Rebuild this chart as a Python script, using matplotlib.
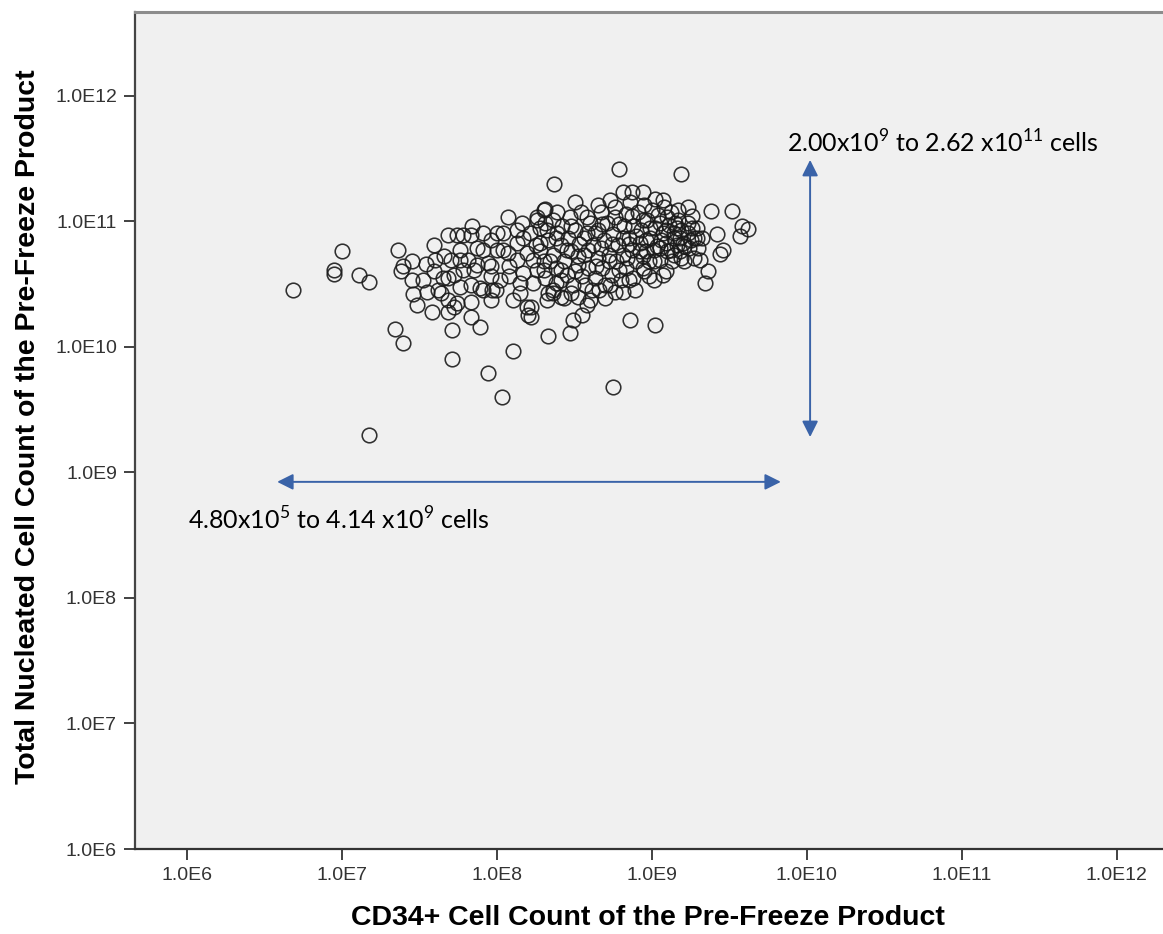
import numpy as np
import matplotlib
matplotlib.use("Agg")
import matplotlib.pyplot as plt
from matplotlib.ticker import FixedLocator, FixedFormatter, NullLocator

# log10 values
log_cd34 = [
    6.68, 7.00, 6.95, 6.95, 7.11, 7.17, 7.36, 7.17, 7.34, 7.39,
    7.39, 7.38, 7.45, 7.45, 7.46, 7.48, 7.54, 7.55, 7.58, 7.59,
    7.60, 7.62, 7.64, 7.66, 7.68, 7.68, 7.68, 7.72, 7.74, 7.76,
    7.78, 7.83, 7.84, 7.83, 7.85, 7.91, 7.91, 7.91, 7.96, 7.99,
    8.00, 8.04, 8.07, 8.08, 8.10, 8.13, 8.15, 8.16, 8.17, 8.19,
    8.20, 8.23, 8.26, 8.28, 8.30, 8.30, 8.32, 8.33,
    7.52, 7.59, 7.65, 7.72, 7.78, 7.76, 7.83, 7.89, 7.96, 7.87,
    7.94, 7.81, 8.00, 8.07, 8.13, 8.19, 8.08, 8.17, 8.23, 7.87,
    7.96, 8.04, 8.13, 8.21, 7.76, 7.70, 7.96, 8.15, 7.68, 7.74,
    7.83, 8.02, 7.97,
    7.71, 7.89, 7.71, 8.10, 7.94, 8.03, 8.33, 8.47, 8.75, 9.02,
    8.48, 8.52, 8.58, 8.55, 8.49, 8.36, 8.41, 8.22, 8.22, 8.81,
    8.86, 9.09, 9.19, 9.31, 9.36, 9.34, 9.14, 8.94,
    8.79, 9.19, 8.37, 8.50, 8.65, 8.73, 8.81, 8.87, 8.94, 9.02,
    9.07, 9.17, 9.23, 9.26, 9.38, 9.52, 9.58, 9.62, 9.57, 9.42,
    9.46, 9.44, 9.27, 9.20, 9.10, 9.16, 9.14, 9.05, 8.39, 8.31,
    8.26, 8.58,
    8.28, 8.28, 8.30, 8.31, 8.33, 8.36, 8.36, 8.38, 8.38, 8.39,
    8.41, 8.42, 8.43, 8.45, 8.46, 8.47, 8.48, 8.49, 8.50, 8.52,
    8.53, 8.54, 8.55, 8.56, 8.58, 8.59, 8.60, 8.61, 8.62, 8.63,
    8.65, 8.65, 8.67, 8.68, 8.69, 8.70, 8.71, 8.72, 8.74, 8.75,
    8.76, 8.77, 8.78, 8.79, 8.80, 8.81, 8.83, 8.83, 8.85, 8.86,
    8.87, 8.88, 8.88, 8.90, 8.91, 8.92, 8.93, 8.94, 8.95, 8.96,
    8.97, 8.98, 8.99, 9.00, 9.01, 9.02, 9.03, 9.04, 9.05, 9.07,
    9.08, 9.09, 9.10, 9.11, 9.12, 9.13, 9.14, 9.16, 9.17, 9.18,
    9.19, 9.21, 9.23, 9.24, 9.25, 9.27, 9.29, 9.30, 9.32, 8.25,
    8.26, 8.32, 8.43, 8.60, 8.70, 8.76, 8.89, 9.01, 9.07,
    8.31, 8.34, 8.38, 8.41, 8.45, 8.48, 8.52, 8.56, 8.59, 8.63,
    8.64, 8.67, 8.68, 8.72, 8.74, 8.76, 8.79, 8.81, 8.82, 8.84,
    8.85, 8.87, 8.90, 8.92, 8.94, 8.96, 8.98, 8.99, 9.01, 9.05,
    9.06, 9.09, 9.12, 9.15, 9.18, 9.21, 9.23, 9.26, 9.29, 8.50,
    8.57, 8.66, 8.73, 8.85, 8.95, 8.41, 8.36,
]
log_tnc = [
    10.45, 10.76, 10.61, 10.58, 10.57, 10.52, 10.77, 9.30, 10.14, 10.03,
    10.64, 10.60, 10.68, 10.53, 10.42, 10.33, 10.66, 10.44, 10.28, 10.81,
    10.69, 10.45, 10.43, 10.72, 10.89, 10.55, 10.28, 10.32, 10.89, 10.69,
    10.89, 10.89, 10.96, 10.24, 10.61, 10.91, 10.77, 10.45, 10.64, 10.45,
    10.91, 10.77, 11.03, 10.56, 10.37, 10.69, 10.51, 10.99, 10.87, 10.32,
    10.25, 10.69, 11.01, 10.83, 11.09, 10.61, 10.93, 10.43,
    10.53, 10.60, 10.55, 10.57, 10.61, 10.48, 10.49, 10.47, 10.56, 10.65,
    10.67, 10.69, 10.77, 10.75, 10.83, 10.75, 10.64, 10.59, 10.51, 10.79,
    10.85, 10.91, 10.93, 10.91, 10.77, 10.69, 10.37, 10.43, 10.37, 10.35,
    10.36, 10.53, 10.45,
    10.13, 10.16, 9.90, 9.97, 9.79, 9.60, 10.09, 10.11, 9.68, 10.17,
    10.43, 10.40, 10.33, 10.25, 10.21, 10.43, 10.40, 10.32, 10.24, 10.44,
    10.21, 10.60, 10.71, 10.69, 10.60, 10.51, 10.73, 10.72,
    11.42, 11.38, 11.30, 11.15, 11.13, 11.17, 11.23, 11.23, 11.23, 11.18,
    11.17, 11.09, 11.11, 11.04, 11.08, 11.08, 10.96, 10.94, 10.88, 10.90,
    10.77, 10.74, 10.87, 10.83, 11.03, 10.95, 10.87, 10.79, 11.07, 11.10,
    11.03, 11.03,
    10.95, 10.76, 10.68, 10.55, 10.85, 11.01, 10.73, 10.63, 10.51, 10.91,
    10.81, 10.96, 10.68, 10.57, 10.87, 11.03, 10.76, 10.49, 10.93, 10.65,
    10.82, 11.07, 10.56, 10.73, 10.91, 10.63, 10.99, 10.45, 10.81, 10.55,
    10.71, 10.93, 11.07, 10.63, 10.85, 10.49, 10.99, 10.73, 10.57, 10.90,
    11.11, 10.68, 10.81, 10.98, 10.53, 10.73, 11.06, 10.63, 10.87, 11.15,
    10.77, 10.96, 10.55, 10.68, 11.07, 10.83, 10.93, 10.63, 11.13, 10.76,
    11.01, 10.56, 10.87, 11.09, 10.68, 10.95, 10.80, 11.05, 10.69, 10.91,
    11.11, 10.83, 10.76, 10.97, 11.07, 10.68, 10.91, 10.81, 11.01, 10.76,
    10.93, 10.68, 10.99, 10.79, 10.85, 10.71, 10.95, 10.79, 10.87, 10.81,
    10.61, 10.37, 10.39, 10.37, 10.39, 10.44, 10.45, 10.53, 10.57,
    10.99, 10.68, 10.87, 10.61, 10.77, 10.96, 10.72, 10.87, 10.77, 10.91,
    10.64, 10.79, 10.98, 10.68, 10.82, 11.03, 10.61, 10.87, 10.96, 10.71,
    10.82, 11.04, 10.88, 10.76, 11.01, 10.85, 10.68, 10.95, 10.77, 10.99,
    10.85, 10.93, 10.77, 10.99, 10.87, 10.80, 10.91, 10.95, 10.87, 10.60,
    10.49, 10.45, 10.49, 10.53, 10.60, 10.53, 10.45,
]

tick_values = [1e6, 1e7, 1e8, 1e9, 1e10, 1e11, 1e12]
tick_labels = ["1.0E6", "1.0E7", "1.0E8", "1.0E9", "1.0E10", "1.0E11", "1.0E12"]

# annotation ranges (arrow ends)
tnc_arrow = (1.91e9, 3.08e11)
cd34_arrow = (3.8e6, 6.8e9)

plt.rcParams["mathtext.fontset"] = "custom"
plt.rcParams["mathtext.rm"] = "Lato"

fig = plt.figure(figsize=(11.63, 9.34), dpi=100)
ax = fig.add_axes([0.1161, 0.0910, 0.8839, 0.8962])
ax.set_facecolor("#f0f0f0")

ax.set_xscale("log")
ax.set_yscale("log")
ax.set_xlim(10 ** 5.662, 10 ** 12.30)
ax.set_ylim(1e6, 10 ** 12.667)

x = 10 ** np.array(log_cd34)
y = 10 ** np.array(log_tnc)
ax.plot(x, y, linestyle="none", marker="o", markersize=10.5,
        markerfacecolor="none", markeredgecolor="#1a1a1a",
        markeredgewidth=1.15, alpha=0.9)

for axis in (ax.xaxis, ax.yaxis):
    axis.set_major_locator(FixedLocator(tick_values))
    axis.set_major_formatter(FixedFormatter(tick_labels))
    axis.set_minor_locator(NullLocator())
ax.tick_params(length=8, width=1.3, color="#333333", labelsize=14,
               labelcolor="#333333", pad=5)
for lab in ax.get_xticklabels() + ax.get_yticklabels():
    lab.set_fontfamily("Liberation Sans")

ax.spines["right"].set_visible(False)
ax.spines["top"].set_color("#8c8c8c")
ax.spines["top"].set_linewidth(2.2)
ax.spines["left"].set_color("#444444")
ax.spines["left"].set_linewidth(1.6)
ax.spines["bottom"].set_color("#333333")
ax.spines["bottom"].set_linewidth(1.6)

# range arrows
arrow_kw = dict(arrowstyle="<|-|>", color="#3a63a8", lw=1.4,
                mutation_scale=24, shrinkA=0, shrinkB=0)
ax.annotate("", xy=(1.05e10, tnc_arrow[1]), xytext=(1.05e10, tnc_arrow[0]),
            arrowprops=arrow_kw)
ax.annotate("", xy=(cd34_arrow[1], 8.4e8), xytext=(cd34_arrow[0], 8.4e8),
            arrowprops=arrow_kw)

ax.text(7.46e9, 3.49e11,
        r"2.00x10$^{\mathregular{9}}$ to 2.62 x10$^{\mathregular{11}}$ cells",
        fontsize=18, family="Lato", va="baseline", ha="left")
ax.text(1.01e6, 3.48e8,
        r"4.80x10$^{\mathregular{5}}$ to 4.14 x10$^{\mathregular{9}}$ cells",
        fontsize=18, family="Lato", va="baseline", ha="left")

fig.text(0.557, 0.017, "CD34+ Cell Count of the Pre-Freeze Product",
         ha="center", va="center", fontsize=20.5, fontweight="bold",
         family="Liberation Sans")
fig.text(0.024, 0.543, "Total Nucleated Cell Count of the Pre-Freeze Product",
         ha="center", va="center", rotation=90, fontsize=20.5,
         fontweight="bold", family="Liberation Sans")

fig.savefig("out.png", dpi=100)
